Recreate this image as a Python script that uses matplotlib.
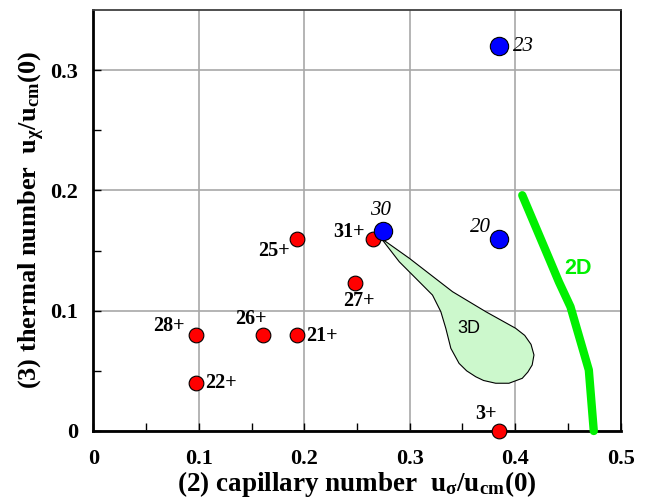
import matplotlib
matplotlib.use("Agg")
import matplotlib.pyplot as plt
from matplotlib.patches import Polygon

plt.rcParams['font.family'] = ['Liberation Serif', 'DejaVu Serif']
plt.rcParams['mathtext.fontset'] = 'custom'
plt.rcParams['mathtext.rm'] = 'Liberation Serif:bold'
plt.rcParams['mathtext.bf'] = 'Liberation Serif:bold'
plt.rcParams['mathtext.it'] = 'Liberation Serif:bold'

# ---- data ----
red_labels = ["3+", "22+", "28+", "26+", "21+", "25+", "27+", "31+"]
red_x = [0.385, 0.097, 0.097, 0.161, 0.193, 0.193, 0.248, 0.265]
red_y = [0.000, 0.040, 0.080, 0.080, 0.080, 0.160, 0.123, 0.160]

blue_labels = ["30", "20", "23"]
blue_x = [0.275, 0.385, 0.385]
blue_y = [0.166, 0.160, 0.320]

line2d_x = [0.4067, 0.432, 0.4414, 0.4524, 0.4698, 0.4745]
line2d_y = [0.196, 0.1436, 0.124, 0.1033, 0.0507, 0.000]

shape3d_x = [0.2729, 0.2996, 0.3406, 0.3721, 0.4004, 0.4090, 0.4150, 0.4178, 0.4161,
             0.4120, 0.4067, 0.3941, 0.3815, 0.3700, 0.3626, 0.3540, 0.3468, 0.3390,
             0.3342, 0.3295, 0.3216, 0.3090, 0.2901]
shape3d_y = [0.1602, 0.1436, 0.1158, 0.0992, 0.0854, 0.0795, 0.0720, 0.0632, 0.0549,
             0.0490, 0.0438, 0.0397, 0.0397, 0.0420, 0.0451, 0.0500, 0.0562, 0.0687,
             0.0854, 0.0992, 0.1130, 0.1241, 0.1407]

x_ticks = [0, 0.1, 0.2, 0.3, 0.4, 0.5]
x_ticklabels = ["0", "0.1", "0.2", "0.3", "0.4", "0.5"]
y_ticks = [0, 0.1, 0.2, 0.3]
y_ticklabels = ["0", "0.1", "0.2", "0.3"]

# label offsets (points)
red_offsets = [(-2, 12, 'right'), (7, 0, 'left'), (-8, 6, 'right'), (-9, 11, 'center'),
               (7, -1, 'left'), (-5, -9, 'right'), (3, -13, 'center'), (-6, 5, 'right')]
blue_offsets = [(-2, 15, 'center'), (-6, 8, 'right'), (10, 0, 'left')]

fig = plt.figure(figsize=(6.46, 5.0), dpi=100)
ax = fig.add_axes([0.1444, 0.138, 0.8164, 0.842])

ax.set_xlim(0, 0.5)
ax.set_ylim(0, 0.35)
ax.set_xticks(x_ticks)
ax.set_xticklabels(x_ticklabels, fontsize=16, fontweight='bold')
ax.set_yticks(y_ticks)
ax.set_yticklabels(y_ticklabels, fontsize=16, fontweight='bold')
ax.set_xticks([0.05, 0.15, 0.25, 0.35, 0.45], minor=True)
ax.set_yticks([0.05, 0.15, 0.25], minor=True)
ax.tick_params(which='both', direction='in', length=6, width=1, top=False, right=False)
ax.tick_params(axis='x', which='major', pad=13)
ax.tick_params(axis='y', which='major', pad=11)
ax.grid(True, which='major', color='#a8a8a8', linewidth=1.2)
ax.set_axisbelow(True)

for side in ['left', 'bottom']:
    ax.spines[side].set_linewidth(2)
    ax.spines[side].set_color('black')
ax.spines['right'].set_linewidth(1.3)
ax.spines['top'].set_linewidth(1.3)
ax.spines['top'].set_color('#404040')

# 3D region
poly = Polygon(list(zip(shape3d_x, shape3d_y)), closed=True, facecolor='#ccf8cc',
               edgecolor='black', linewidth=0.8, zorder=2, joinstyle='round')
ax.add_patch(poly)
ax.text(0.3557, 0.0848, "3D", fontsize=13, family='Liberation Sans', ha='center', va='center', zorder=3)

# 2D line
ax.plot(line2d_x, line2d_y, color='#00f000', linewidth=6, solid_capstyle='round',
        solid_joinstyle='round', zorder=3, clip_on=False)
ax.text(0.460, 0.1355, "2D", fontsize=15.5, fontweight='bold', family='Liberation Sans',
        color='#00f000', ha='center', va='center', zorder=3)

# points
ax.scatter(red_x, red_y, s=112, color='#ff0000', edgecolors='black', linewidths=0.8,
           zorder=4, clip_on=False)
ax.scatter(blue_x, blue_y, s=174, color='#0000ff', edgecolors='black', linewidths=0.8,
           zorder=5, clip_on=False)

for lab, x, y, (dx, dy, ha) in zip(red_labels, red_x, red_y, red_offsets):
    ax.annotate(lab, (x, y), xytext=(dx, dy), textcoords='offset points', ha=ha, va='center',
                fontsize=14.5, fontweight='bold', zorder=6)
for lab, x, y, (dx, dy, ha) in zip(blue_labels, blue_x, blue_y, blue_offsets):
    ax.annotate(lab, (x, y), xytext=(dx, dy), textcoords='offset points', ha=ha, va='center',
                fontsize=15, style='italic', zorder=6)

ax.set_xlabel(r"(2) capillary number  u$_{\mathbf{σ}}$/u$_{\mathbf{cm}}$(0)", fontsize=19.5,
              fontweight='bold', labelpad=0)
ax.set_ylabel(r"(3) thermal number  u$_{\mathbf{χ}}$/u$_{\mathbf{cm}}$(0)", fontsize=19,
              fontweight='bold', labelpad=2)

fig.savefig("out.png", dpi=100)
